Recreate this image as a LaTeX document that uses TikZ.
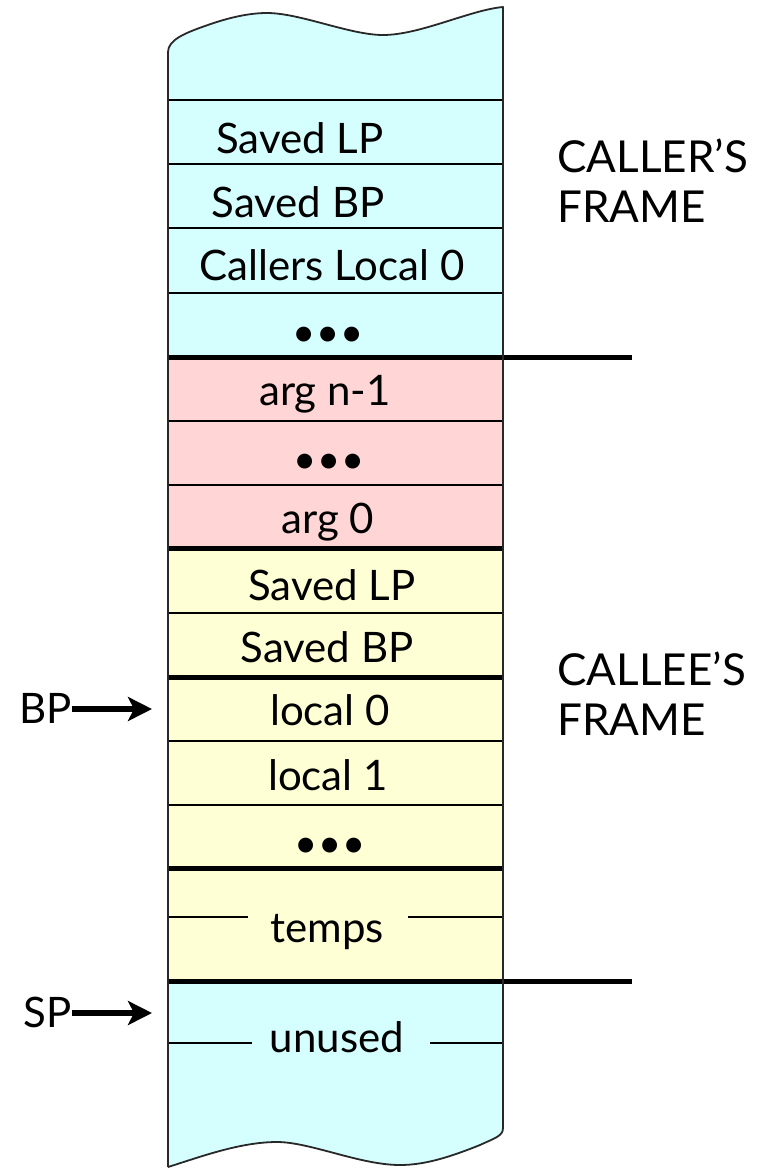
\documentclass[tikz,border=0pt]{standalone}
\usepackage{fontspec}
\setmainfont{Lato}
\usetikzlibrary{arrows.meta}
\definecolor{stackcyan}{RGB}{213,255,255}
\definecolor{argpink}{RGB}{255,213,213}
\definecolor{frameyellow}{RGB}{255,255,213}
\definecolor{edgegray}{RGB}{40,40,40}
\newcommand\stackdots{\fontsize{20}{20}\selectfont •\kern0.2pt•\kern0.2pt•}
\begin{document}
\begin{tikzpicture}[x=0.5pt,y=-0.5pt,
  cell/.style={font=\fontsize{21}{25}\selectfont, anchor=base, inner sep=0pt},
  dotcell/.style={anchor=center, inner sep=0pt},
  sep/.style={line width=0.8pt},
  bound/.style={line width=2.5pt},
  edge/.style={line width=0.9pt, draw=edgegray},
  lbl/.style={font=\fontsize{22}{25}\selectfont, align=left, anchor=base west, inner sep=0pt},
  ptr/.style={line width=2.7pt, -{Stealth[length=12pt,width=12pt,inset=3pt]}},
]
\useasboundingbox (0,0) rectangle (772,1168);

% region fills
\fill[stackcyan] (168,52) .. controls (168,40) and (185,33) .. (205,26)
  .. controls (230,17) and (250,13) .. (267,13)
  .. controls (300,13) and (350,35) .. (383,35)
  .. controls (420,35) and (470,10) .. (503,7)
  -- (503,357) -- (168,357) -- cycle;
\fill[argpink] (168,357) rectangle (503,548);
\fill[frameyellow] (168,548) rectangle (503,981);
\fill[stackcyan] (168,981) -- (503,981) -- (503,1128)
  .. controls (503,1136) and (495,1138) .. (480,1145)
  .. controls (450,1157) and (425,1165) .. (400,1165)
  .. controls (360,1165) and (310,1142) .. (277,1142)
  .. controls (240,1142) and (200,1157) .. (168,1167) -- cycle;

% thin slot separators
\foreach \y in {100,164,228,293,421,485,613,741,805}
  \draw[sep] (168,\y) -- (503,\y);
\draw[sep] (168,917) -- (248,917);
\draw[sep] (408,917) -- (503,917);
\draw[sep] (168,1043) -- (252,1043);
\draw[sep] (430,1043) -- (503,1043);

% frame boundaries
\draw[bound] (168,357) -- (632,357);
\draw[bound] (168,548) -- (503,548);
\draw[bound] (168,677) -- (503,677);
\draw[bound] (168,868) -- (503,868);
\draw[bound] (168,981) -- (632,981);

% outline of the stack
\draw[edge, line join=round] (168,1167) -- (168,52)
  .. controls (168,40) and (185,33) .. (205,26)
  .. controls (230,17) and (250,13) .. (267,13)
  .. controls (300,13) and (350,35) .. (383,35)
  .. controls (420,35) and (470,10) .. (503,7)
  -- (503,1128)
  .. controls (503,1136) and (495,1138) .. (480,1145)
  .. controls (450,1157) and (425,1165) .. (400,1165)
  .. controls (360,1165) and (310,1142) .. (277,1142)
  .. controls (240,1142) and (200,1157) .. (168,1167);

% caller's frame
\node[cell] (clp) at (300,153) {Saved LP};
\node[cell] (cbp) at (298,217) {Saved BP};
\node[cell] (cl0) at (332,280) {Callers Local 0};
\node[dotcell] (cdots) at (328,337) {\stackdots};

% arguments
\node[cell] (argn) at (325,405) {arg n-1};
\node[dotcell] (adots) at (329,464) {\stackdots};
\node[cell] (arg0) at (328,533) {arg 0};

% callee's frame
\node[cell] (slp) at (332,600) {Saved LP};
\node[cell] (sbp) at (327,662) {Saved BP};
\node[cell] (loc0) at (330,725) {local 0};
\node[cell] (loc1) at (328,790) {local 1};
\node[dotcell] (ldots) at (330,848) {\stackdots};
\node[cell] (temps) at (327,942) {temps};
\node[cell] (unused) at (337,1052) {unused};

% frame labels (anchored on the baseline of the second line)
\node[lbl] (callerlbl) at (557,222) {CALLER’S\\FRAME};
\node[lbl] (calleelbl) at (557,735) {CALLEE’S\\FRAME};

% pointers
\node[cell, anchor=base east] (bp) at (72,723) {BP};
\coordinate (bptip) at (152,709);
\draw[ptr] (bp.east |- bptip) -- (bptip);
\node[cell, anchor=base east] (sp) at (72,1027) {SP};
\coordinate (sptip) at (152,1013);
\draw[ptr] (sp.east |- sptip) -- (sptip);
\end{tikzpicture}
\end{document}
